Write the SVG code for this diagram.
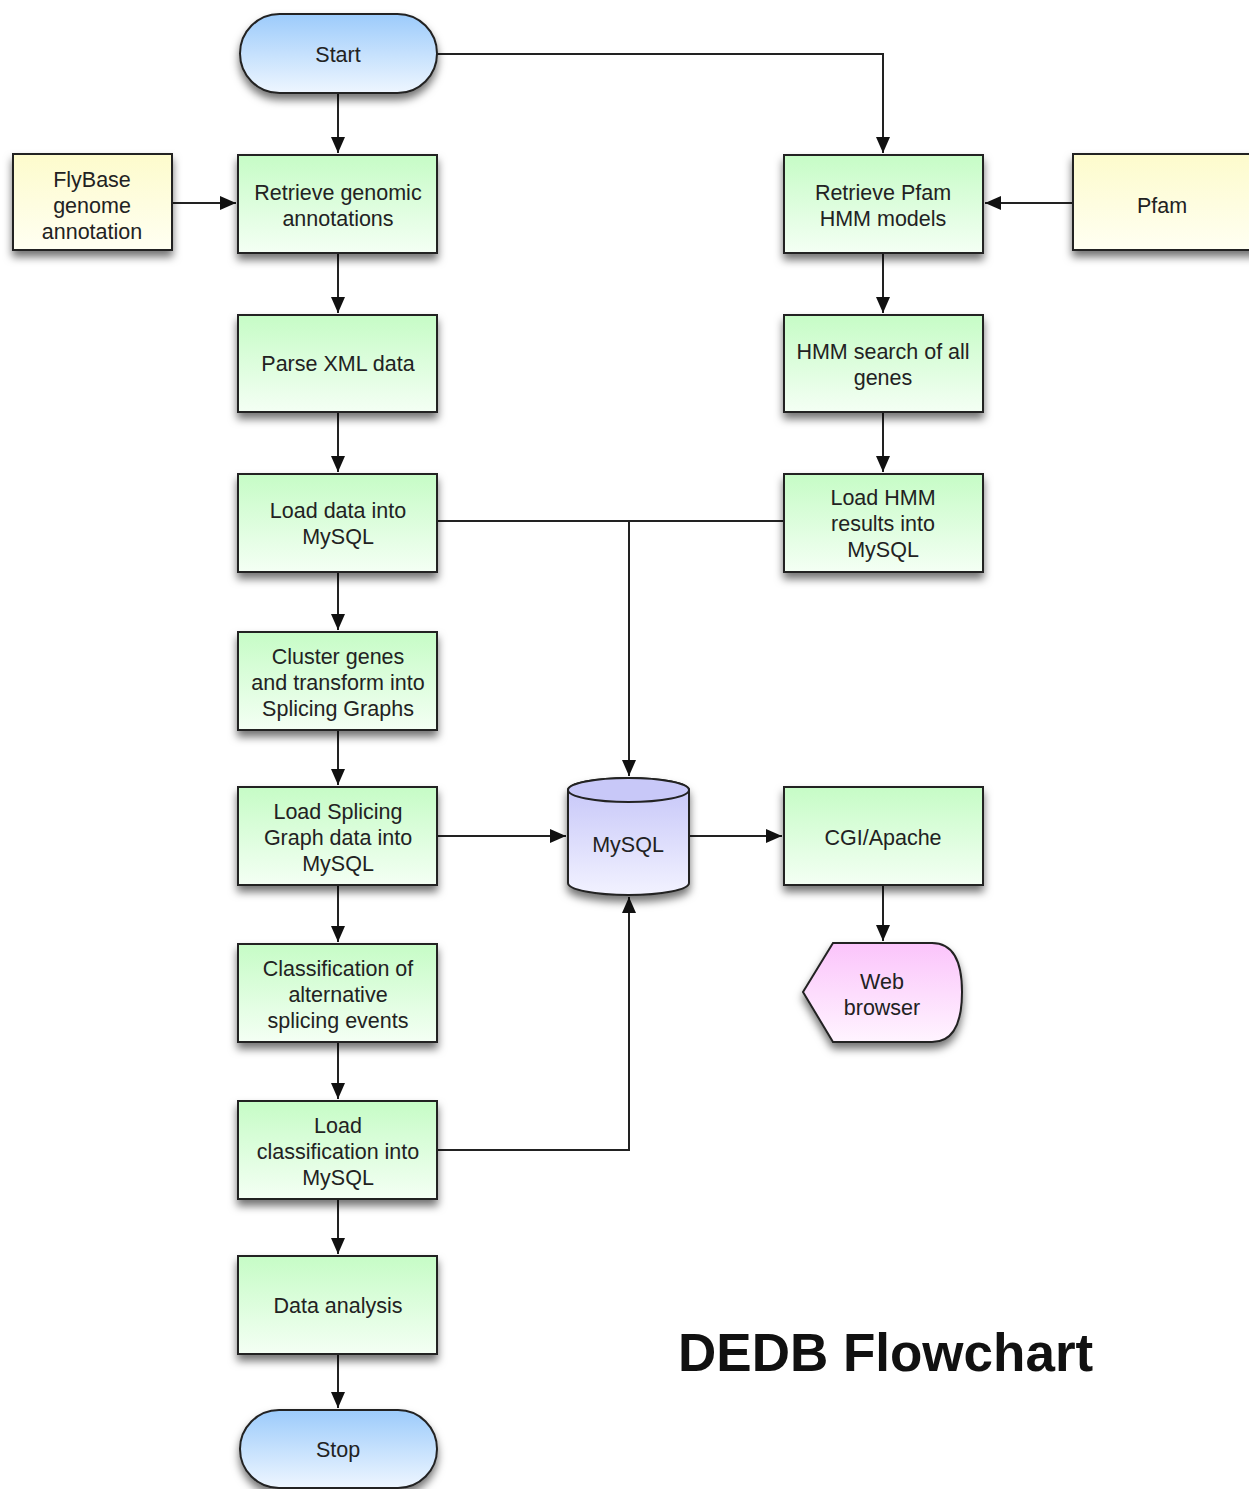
<svg xmlns="http://www.w3.org/2000/svg" width="1249" height="1489" viewBox="0 0 1249 1489">
<style>
.t{font-family:"Liberation Sans",Arial,sans-serif;font-size:21.5px;fill:#222;text-anchor:middle;dominant-baseline:central}
.box{stroke:#222;stroke-width:2}
.c{fill:none;stroke:#222;stroke-width:2}
.title{font-family:"Liberation Sans",Arial,sans-serif;font-size:53px;font-weight:bold;fill:#111}
</style>
<defs>
<linearGradient id="gG" x1="0" y1="0" x2="0" y2="1"><stop offset="0" stop-color="#c6fcc6"/><stop offset="1" stop-color="#f4fff4"/></linearGradient>
<linearGradient id="gB" x1="0" y1="0" x2="0" y2="1"><stop offset="0" stop-color="#9ccbfb"/><stop offset="1" stop-color="#eef6ff"/></linearGradient>
<linearGradient id="gY" x1="0" y1="0" x2="0" y2="1"><stop offset="0" stop-color="#fdfbcc"/><stop offset="1" stop-color="#fffff2"/></linearGradient>
<linearGradient id="gP" x1="0" y1="0" x2="0" y2="1"><stop offset="0" stop-color="#c4c4f8"/><stop offset="1" stop-color="#f2f2ff"/></linearGradient>
<linearGradient id="gK" x1="0" y1="0" x2="0" y2="1"><stop offset="0" stop-color="#fbc4fb"/><stop offset="1" stop-color="#fff4ff"/></linearGradient>
<filter id="sh" x="-20%" y="-20%" width="140%" height="150%"><feDropShadow dx="0" dy="6" stdDeviation="4" flood-color="#000" flood-opacity="0.55"/></filter>
<marker id="ah" viewBox="0 0 16 14" refX="16" refY="7" markerWidth="16" markerHeight="14" markerUnits="userSpaceOnUse" orient="auto"><path d="M0,0 L16,7 L0,14 Z" fill="#111"/></marker>
</defs>
<rect width="1249" height="1489" fill="#fff"/>
<g id="connectors">
<path class="c" d="M437,54 H883 V153" marker-end="url(#ah)"/>
<path class="c" d="M338,93 V153" marker-end="url(#ah)"/>
<path class="c" d="M172,203 H236" marker-end="url(#ah)"/>
<path class="c" d="M1073,203 H985" marker-end="url(#ah)"/>
<path class="c" d="M338,253 V313" marker-end="url(#ah)"/>
<path class="c" d="M338,412 V472" marker-end="url(#ah)"/>
<path class="c" d="M338,572 V630" marker-end="url(#ah)"/>
<path class="c" d="M338,730 V785" marker-end="url(#ah)"/>
<path class="c" d="M338,885 V942" marker-end="url(#ah)"/>
<path class="c" d="M338,1042 V1099" marker-end="url(#ah)"/>
<path class="c" d="M338,1199 V1254" marker-end="url(#ah)"/>
<path class="c" d="M338,1354 V1408" marker-end="url(#ah)"/>
<path class="c" d="M883,253 V313" marker-end="url(#ah)"/>
<path class="c" d="M883,412 V472" marker-end="url(#ah)"/>
<path class="c" d="M437,521 H784"/>
<path class="c" d="M629,521 V776" marker-end="url(#ah)"/>
<path class="c" d="M437,836 H566" marker-end="url(#ah)"/>
<path class="c" d="M689,836 H782" marker-end="url(#ah)"/>
<path class="c" d="M883,885 V941" marker-end="url(#ah)"/>
<path class="c" d="M437,1150 H629 V897" marker-end="url(#ah)"/>
</g>
<g id="start"><rect class="box" x="240" y="14" width="197" height="79" rx="39.5" fill="url(#gB)" filter="url(#sh)"/><text class="t" x="338" y="55">Start</text></g>
<g id="flybase"><rect class="box" x="13" y="154" width="159" height="96" fill="url(#gY)" filter="url(#sh)" stroke-width="1.5"/><text class="t" x="92" y="180">FlyBase</text><text class="t" x="92" y="206">genome</text><text class="t" x="92" y="232">annotation</text></g>
<g id="retrieve-genomic"><rect class="box" x="238" y="155" width="199" height="98" fill="url(#gG)" filter="url(#sh)"/><text class="t" x="338" y="193">Retrieve genomic</text><text class="t" x="338" y="219">annotations</text></g>
<g id="parse-xml"><rect class="box" x="238" y="315" width="199" height="97" fill="url(#gG)" filter="url(#sh)"/><text class="t" x="338" y="364">Parse XML data</text></g>
<g id="load-data"><rect class="box" x="238" y="474" width="199" height="98" fill="url(#gG)" filter="url(#sh)"/><text class="t" x="338" y="511">Load data into</text><text class="t" x="338" y="537">MySQL</text></g>
<g id="cluster"><rect class="box" x="238" y="632" width="199" height="98" fill="url(#gG)" filter="url(#sh)"/><text class="t" x="338" y="657">Cluster genes</text><text class="t" x="338" y="683">and transform into</text><text class="t" x="338" y="709">Splicing Graphs</text></g>
<g id="load-splicing"><rect class="box" x="238" y="787" width="199" height="98" fill="url(#gG)" filter="url(#sh)"/><text class="t" x="338" y="812">Load Splicing</text><text class="t" x="338" y="838">Graph data into</text><text class="t" x="338" y="864">MySQL</text></g>
<g id="classification"><rect class="box" x="238" y="944" width="199" height="98" fill="url(#gG)" filter="url(#sh)"/><text class="t" x="338" y="969">Classification of</text><text class="t" x="338" y="995">alternative</text><text class="t" x="338" y="1021">splicing events</text></g>
<g id="load-classification"><rect class="box" x="238" y="1101" width="199" height="98" fill="url(#gG)" filter="url(#sh)"/><text class="t" x="338" y="1126">Load</text><text class="t" x="338" y="1152">classification into</text><text class="t" x="338" y="1178">MySQL</text></g>
<g id="data-analysis"><rect class="box" x="238" y="1256" width="199" height="98" fill="url(#gG)" filter="url(#sh)"/><text class="t" x="338" y="1306">Data analysis</text></g>
<g id="stop"><rect class="box" x="240" y="1410" width="197" height="78" rx="39" fill="url(#gB)" filter="url(#sh)"/><text class="t" x="338" y="1450">Stop</text></g>
<g id="retrieve-pfam"><rect class="box" x="784" y="155" width="199" height="98" fill="url(#gG)" filter="url(#sh)"/><text class="t" x="883" y="193">Retrieve Pfam</text><text class="t" x="883" y="219">HMM models</text></g>
<g id="pfam"><rect class="box" x="1073" y="154" width="190" height="96" fill="url(#gY)" filter="url(#sh)" stroke-width="1.5"/><text class="t" x="1162" y="206">Pfam</text></g>
<g id="hmm-search"><rect class="box" x="784" y="315" width="199" height="97" fill="url(#gG)" filter="url(#sh)"/><text class="t" x="883" y="352">HMM search of all</text><text class="t" x="883" y="378">genes</text></g>
<g id="load-hmm"><rect class="box" x="784" y="474" width="199" height="98" fill="url(#gG)" filter="url(#sh)"/><text class="t" x="883" y="498">Load HMM</text><text class="t" x="883" y="524">results into</text><text class="t" x="883" y="550">MySQL</text></g>
<g id="mysql"><path class="box" d="M568,790 A60.5,12 0 0 1 689,790 V883 A60.5,12 0 0 1 568,883 Z" fill="url(#gP)" filter="url(#sh)"/><ellipse class="box" cx="628.5" cy="790" rx="60.5" ry="12" fill="#c8c8f8"/><text class="t" x="628" y="845">MySQL</text></g>
<g id="cgi-apache"><rect class="box" x="784" y="787" width="199" height="98" fill="url(#gG)" filter="url(#sh)"/><text class="t" x="883" y="838">CGI/Apache</text></g>
<g id="web-browser"><path class="box" d="M833,943 H932 Q962,943 962,992 Q962,1042 932,1042 H833 L803,992 Z" fill="url(#gK)" filter="url(#sh)"/><text class="t" x="882" y="982">Web</text><text class="t" x="882" y="1008">browser</text></g>
<text class="title" x="678" y="1371">DEDB Flowchart</text>
</svg>
